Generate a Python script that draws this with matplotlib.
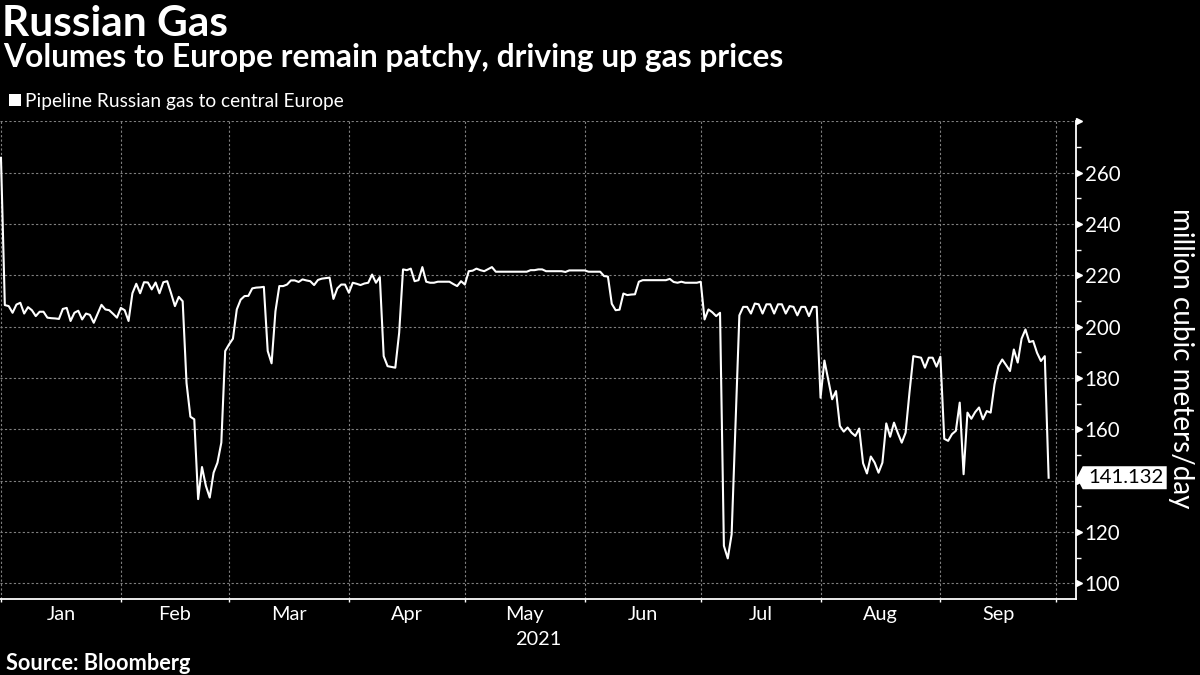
import matplotlib
matplotlib.use("Agg")
import matplotlib.pyplot as plt
import matplotlib.transforms as mtransforms
from matplotlib import font_manager
from matplotlib.patches import Polygon, Rectangle
import pandas as pd

# ---------------- data ----------------
start_date = "2021-01-01"
gas_flow = [
    265.8, 208.4, 208.0, 205.4, 208.6, 209.3, 205.1, 207.6, 206.4, 204.1,
    205.8, 205.8, 203.5, 203.3, 203.2, 203.0, 206.9, 207.3, 202.2, 205.4,
    206.2, 202.8, 205.1, 204.6, 201.5, 205.0, 208.5, 206.7, 206.4, 205.0,
    203.5, 207.3, 206.4, 202.2, 213.0, 216.7, 213.0, 217.3, 217.2, 214.5,
    217.2, 213.0, 217.3, 217.7, 213.0, 208.0, 211.6, 209.9, 178.0, 164.9,
    163.9, 132.8, 145.3, 138.0, 133.4, 143.1, 147.0, 154.8, 190.5, 193.1,
    195.3, 206.7, 210.5, 211.9, 212.0, 214.9, 215.2, 215.3, 215.5, 190.5,
    185.7, 206.0, 215.8, 215.8, 216.4, 218.0, 218.0, 217.4, 218.4, 218.0,
    217.7, 216.2, 218.2, 218.7, 218.9, 219.1, 210.8, 214.9, 216.4, 216.4,
    213.2, 217.1, 216.7, 216.2, 216.8, 217.1, 220.3, 217.1, 219.3, 188.5,
    184.6, 184.3, 184.0, 197.6, 222.3, 222.0, 222.6, 217.7, 218.1, 223.2,
    217.5, 217.1, 217.1, 217.5, 217.5, 217.5, 217.5, 216.6, 215.8, 217.7,
    216.4, 221.6, 221.8, 222.6, 222.0, 221.6, 222.4, 223.2, 221.4, 221.4,
    221.4, 221.4, 221.4, 221.4, 221.4, 221.4, 221.4, 222.0, 222.0, 222.3,
    222.3, 221.6, 221.6, 221.6, 221.6, 221.6, 221.3, 221.9, 221.9, 221.9,
    221.9, 221.9, 221.4, 221.4, 221.4, 221.4, 219.7, 219.5, 208.9, 206.4,
    206.6, 212.9, 212.3, 212.5, 212.6, 217.5, 218.1, 218.1, 218.1, 218.1,
    218.1, 218.1, 218.1, 218.6, 217.4, 217.1, 217.5, 217.1, 217.1, 217.1,
    217.1, 217.5, 202.8, 206.7, 205.6, 204.1, 205.4, 114.6, 109.7, 119.1,
    162.0, 204.4, 207.7, 207.7, 205.1, 209.0, 208.7, 205.1, 208.7, 208.7,
    205.1, 208.7, 208.7, 205.1, 208.0, 207.7, 204.4, 207.7, 207.7, 204.1,
    207.7, 207.7, 172.3, 186.8, 179.2, 171.7, 174.9, 161.3, 159.1, 160.7,
    158.7, 157.4, 160.3, 146.8, 142.8, 149.4, 147.0, 143.1, 147.0, 162.3,
    157.1, 162.6, 158.5, 154.8, 158.7, 174.3, 188.5, 188.2, 187.9, 184.0,
    187.9, 187.9, 184.4, 188.3, 156.3, 155.5, 158.1, 159.4, 170.4, 142.5,
    166.5, 164.1, 166.7, 168.5, 163.9, 167.1, 166.5, 177.5, 184.6, 187.2,
    185.0, 182.7, 191.1, 186.0, 195.3, 198.9, 194.0, 194.4, 189.8, 186.6,
    188.5, 141.132,
]
month_labels = ["Jan", "Feb", "Mar", "Apr", "May", "Jun", "Jul", "Aug", "Sep"]
year_label = "2021"
y_ticks = [100, 120, 140, 160, 180, 200, 220, 240, 260, 280]
y_tick_labels = ["100", "120", "140", "160", "180", "200", "220", "240", "260", ""]
y_minor = [110, 130, 150, 170, 190, 210, 230, 250, 270]
title = "Russian Gas"
subtitle = "Volumes to Europe remain patchy, driving up gas prices"
legend_label = "Pipeline Russian gas to central Europe"
y_label = "million cubic meters/day"
source = "Source: Bloomberg"


# ---------------- fonts ----------------
def pick_font(cands):
    for c in cands:
        try:
            font_manager.findfont(font_manager.FontProperties(family=c),
                                  fallback_to_default=False)
            return c
        except Exception:
            pass
    return "DejaVu Sans"


FONT = pick_font(["Lato", "Open Sans", "Noto Sans"])
plt.rcParams["font.family"] = [FONT, "DejaVu Sans"]

W, H = 1200, 675
fig = plt.figure(figsize=(12, 6.75), dpi=100, facecolor="black")
renderer = fig.canvas.get_renderer()


def fit_size(s, target, weight="normal", rotation=0):
    t = fig.text(0, 0, s, fontsize=20, weight=weight, rotation=rotation)
    bb = t.get_window_extent(renderer)
    t.remove()
    length = bb.height if rotation else bb.width
    return 20 * target / length


def fx(x):
    return x / W


def fy(y):
    return 1 - y / H


# ---------------- axes ----------------
ax_l, ax_r, ax_t, ax_b = 0.0, 1075.7, 121.3, 599.3
ax = fig.add_axes([fx(ax_l), fy(ax_b), (ax_r - ax_l) / W, (ax_b - ax_t) / H])
ax.set_facecolor("black")

dates = pd.date_range(start_date, periods=len(gas_flow), freq="D")
ax.plot(dates, gas_flow, color="white", lw=1.5, zorder=3)

t0 = pd.Timestamp(start_date)
ax.set_xlim(t0 - pd.Timedelta(hours=6), t0 + pd.Timedelta(days=278))
y_lo, y_hi = 93.77, 280
ax.set_ylim(y_lo, y_hi)

month_starts = pd.date_range("2021-01-01", "2021-10-01", freq="MS")
mids = month_starts[:-1] + (month_starts[1:] - month_starts[:-1]) / 2

tick_size = fit_size("260", 35.7)
month_size = fit_size("Aug", 35)

ax.set_xticks(month_starts)
ax.set_xticklabels([""] * len(month_starts))
ax.set_xticks(mids, minor=True)
ax.set_xticklabels(month_labels, minor=True)
ax.tick_params(axis="x", which="major", length=2.4, width=1, color="white",
               labelbottom=False)
ax.tick_params(axis="x", which="minor", length=0, labelsize=month_size,
               labelcolor="white", pad=4.5)

# the last-value tag covers any tick label it sits on (as in the reference)
last = gas_flow[-1]
tag_half_px = 11.5
px_per_unit = (ax_b - ax_t) / (y_hi - y_lo)
shown_labels = [lab if abs(v - last) * px_per_unit > tag_half_px + 6 else ""
                for v, lab in zip(y_ticks, y_tick_labels)]

ax.yaxis.tick_right()
ax.set_yticks(y_ticks)
ax.set_yticklabels(shown_labels)
ax.set_yticks(y_minor, minor=True)
ax.tick_params(axis="y", which="major", length=0, pad=6.6, labelsize=tick_size,
               labelcolor="white")
ax.tick_params(axis="y", which="minor", length=3.6, width=1, color="white")

ax.grid(which="major", axis="both", color="#808080", lw=0.8,
        linestyle=(0, (2, 2)))
ax.set_axisbelow(True)

for s in ("top", "left"):
    ax.spines[s].set_visible(False)
for s in ("right", "bottom"):
    ax.spines[s].set_color("white")
    ax.spines[s].set_linewidth(1.3)

# triangle markers on major y ticks
blend = mtransforms.blended_transform_factory(ax.transAxes, ax.transData)
tri_tr = mtransforms.offset_copy(blend, fig=fig, x=3.3, y=0, units="dots")
ax.plot([1.0] * len(y_ticks), y_ticks, linestyle="none", marker=">", ms=4.6,
        color="white", transform=tri_tr, clip_on=False, zorder=5)

# last value tag
xa, ya = blend.transform((1.0, last))
tag = Polygon([(xa + 1, ya), (xa + 7, ya + tag_half_px),
               (xa + 91, ya + tag_half_px), (xa + 91, ya - tag_half_px),
               (xa + 7, ya - tag_half_px)], closed=True,
              facecolor="white", edgecolor="none",
              transform=mtransforms.IdentityTransform())
fig.add_artist(tag)
fig.text(xa + 50, ya, f"{last:.3f}", color="black", ha="center", va="center",
         fontsize=fit_size("141.132", 75),
         transform=mtransforms.IdentityTransform())

# ---------------- texts ----------------
fig.text(fx(2.5), fy(36.5), title, color="white", weight="bold",
         fontsize=fit_size(title, 225.5, "bold"), va="baseline", ha="left")
fig.text(fx(3), fy(66.7), subtitle, color="white", weight="bold",
         fontsize=fit_size(subtitle, 783, "bold"), va="baseline", ha="left")
fig.add_artist(Rectangle((fx(9.3), fy(106)), 11.4 / W, 12 / H,
                         transform=fig.transFigure, facecolor="white",
                         edgecolor="none"))
fig.text(fx(25), fy(106.7), legend_label, color="white",
         fontsize=fit_size(legend_label, 319), va="baseline", ha="left")
fig.text(fx(538), fy(645), year_label, color="white", fontsize=month_size,
         va="baseline", ha="center")
fig.text(fx(1181), fy(358), y_label, color="white", rotation=270,
         fontsize=fit_size(y_label, 300, rotation=270), va="center",
         ha="center")
fig.text(fx(5.7), fy(670), source, color="white", weight="bold",
         fontsize=fit_size(source, 184, "bold"), va="baseline", ha="left")

fig.savefig("out.png", dpi=100, facecolor="black")
